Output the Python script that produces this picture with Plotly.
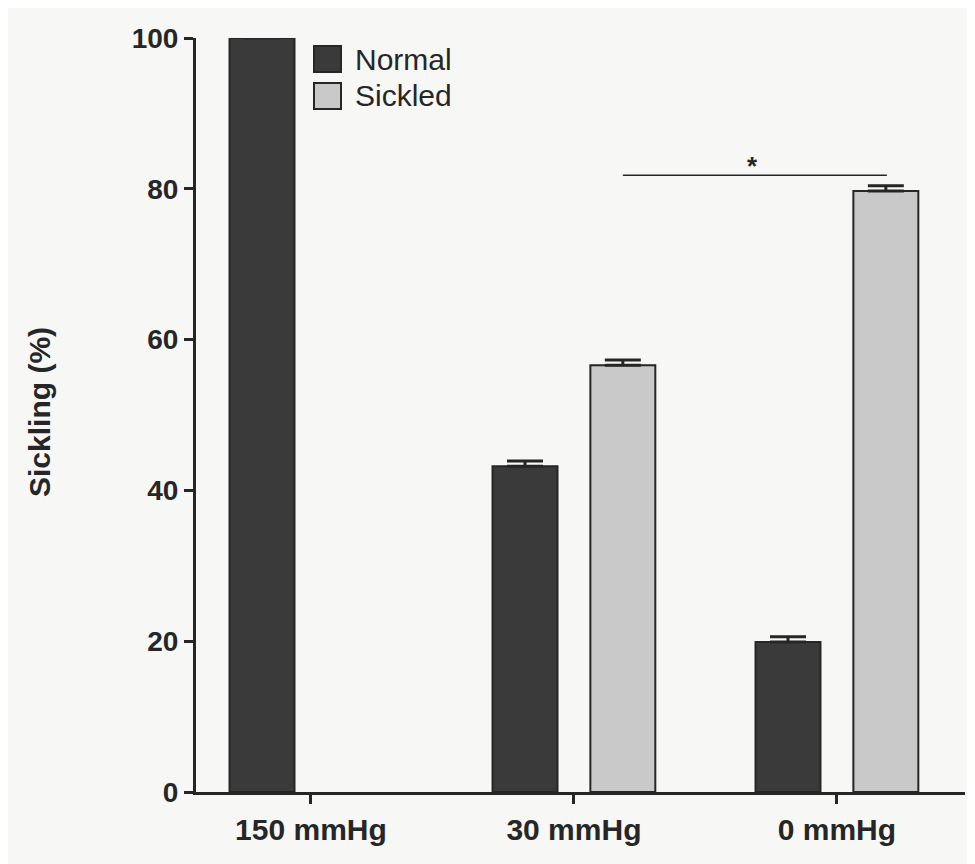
import plotly.graph_objects as go

# data
categories = ['150 mmHg', '30 mmHg', '0 mmHg']
normal = [100, 43.2, 19.9]
normal_err = [None, 0.7, 0.7]
sickled = [None, 56.6, 79.7]
sickled_err = [None, 0.7, 0.7]
sig_y = 81.8  # bracket between 30 and 0 mmHg sickled bars

x_pos = list(range(len(categories)))
ink = '#262626'
font = 'Liberation Sans, Arial, sans-serif'

fig = go.Figure()

fig.add_trace(go.Bar(
    x=x_pos, y=normal, name='Normal',
    marker=dict(color='#3a3a3a', line=dict(color=ink, width=2)),
    error_y=dict(type='data', array=normal_err, arrayminus=[0, 0, 0],
                 symmetric=False, color=ink, thickness=3, width=18),
))
fig.add_trace(go.Bar(
    x=x_pos, y=sickled, name='Sickled',
    marker=dict(color='#c9c9c9', line=dict(color=ink, width=2)),
    error_y=dict(type='data', array=sickled_err, arrayminus=[0, 0, 0],
                 symmetric=False, color=ink, thickness=3, width=18),
))

# page has an 8px body margin, so the figure is a bit smaller than the window
fig.update_layout(
    width=967, height=856,
    margin=dict(l=188, r=10, t=30, b=72),
    paper_bgcolor='#f7f7f6', plot_bgcolor='#f7f7f6',
    barmode='group', bargap=0.256, bargroupgap=0.336,
    showlegend=False,
    font=dict(family=font, color=ink),
)

fig.update_xaxes(
    range=[-0.437, 2.487], tickvals=x_pos, ticktext=categories,
    showline=True, linecolor=ink, linewidth=3,
    ticks='outside', ticklen=9, tickwidth=3, tickcolor=ink,
    showgrid=False, zeroline=False,
    tickfont=dict(size=30, family=font, color=ink, weight='bold'),
)
fig.update_yaxes(
    range=[0, 100], tickvals=[0, 20, 40, 60, 80, 100],
    showline=True, linecolor=ink, linewidth=3,
    ticks='outside', ticklen=9, tickwidth=3, tickcolor=ink,
    showgrid=False, zeroline=False,
    tickfont=dict(size=28, family=font, color=ink, weight='bold'),
)

# y axis title
fig.add_annotation(
    text='Sickling (%)', textangle=-90, showarrow=False,
    xref='paper', yref='paper', x=(40 - 196) / 769, y=0.504,
    xanchor='center', yanchor='middle',
    font=dict(size=30, family=font, color=ink, weight='bold'),
)

# significance bar
fig.add_shape(type='line', xref='x', yref='y', x0=1.186, x1=2.19, y0=sig_y, y1=sig_y,
              line=dict(color=ink, width=1.5))
fig.add_annotation(text='*', x=1.68, y=sig_y, xref='x', yref='y', showarrow=False,
                   yanchor='bottom', yshift=-8,
                   font=dict(size=26, family=font, color=ink, weight='bold'))

# legend drawn by hand to get the large boxes
legend_items = [('Normal', '#3a3a3a', 59), ('Sickled', '#c9c9c9', 96)]
for label, color, py in legend_items:
    fig.add_shape(type='rect', xref='paper', yref='paper',
                  x0=(314 - 196) / 769, x1=(341 - 196) / 769,
                  y0=(792 - py - 13) / 754, y1=(792 - py + 13) / 754,
                  fillcolor=color, line=dict(color=ink, width=2))
    fig.add_annotation(text=label, xref='paper', yref='paper',
                       x=(353 - 196) / 769, y=(792 - py) / 754,
                       xanchor='left', yanchor='middle', showarrow=False,
                       font=dict(size=30, family=font, color=ink))

fig.write_html('out.html')
